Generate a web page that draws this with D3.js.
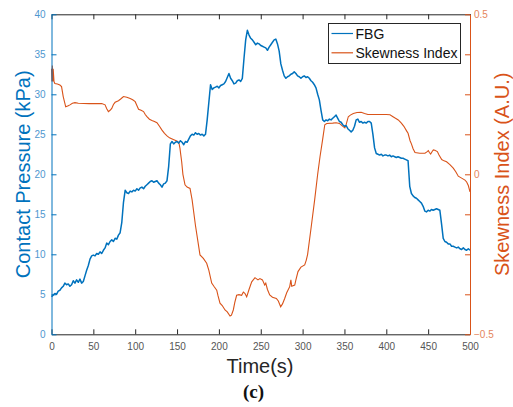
<!DOCTYPE html>
<html><head><meta charset="utf-8">
<script src="https://cdn.jsdelivr.net/npm/d3@7"></script>
<style>body{margin:0;background:#fff}svg{display:block;font-family:"Liberation Sans",Arial,sans-serif}</style>
</head><body><svg id="c" width="513" height="407"></svg>
<script>
// ---- data ----
const fbgStep = 2; // seconds between FBG samples
const fbgValues = [4.7,4.9,5.1,5.0,5.4,5.5,5.8,6.0,6.4,6.2,6.3,6.0,6.2,6.7,6.4,6.8,6.5,6.9,6.4,6.6,
7.3,8.0,8.6,9.4,9.8,9.9,9.8,10.1,10.0,10.3,10.1,10.5,10.8,11.4,11.2,11.6,11.8,11.6,12.0,11.9,
12.4,12.7,14.0,16.5,18.0,17.7,17.6,17.9,17.8,18.0,17.9,18.2,18.0,18.3,18.4,18.2,18.5,18.7,18.9,19.1,
19.2,19.0,19.1,19.2,18.9,18.7,18.4,18.8,18.9,19.2,21.0,23.8,24.1,23.8,24.0,24.1,23.9,24.2,24.0,23.7,
24.1,24.0,24.4,24.8,25.0,24.9,25.2,25.0,25.1,24.9,25.0,24.8,25.0,26.8,29.0,31.2,30.6,30.8,30.9,31.0,
30.8,31.1,31.2,31.3,31.6,32.1,32.6,32.0,31.7,31.3,31.4,31.7,31.8,31.6,32.0,34.5,36.8,38.0,37.4,37.0,
36.8,36.5,36.2,36.4,36.3,36.1,36.0,35.9,35.8,35.5,35.9,36.2,36.5,36.8,36.9,36.3,35.4,33.8,33.0,32.3,
32.0,32.2,32.3,32.5,32.6,32.8,32.6,32.3,32.2,32.0,32.2,32.3,32.1,32.2,32.0,31.7,31.5,31.2,30.8,30.0,
29.3,28.0,26.8,26.6,26.8,26.7,26.9,26.8,27.0,27.2,27.4,27.0,26.6,26.5,26.2,26.0,26.1,25.7,25.5,25.3,
25.5,26.0,26.8,26.9,26.5,26.6,26.4,26.5,26.4,26.6,26.6,26.4,25.0,23.3,22.6,22.5,22.4,22.5,22.3,22.4,
22.4,22.3,22.4,22.2,22.3,22.2,22.1,22.2,22.1,22.0,22.0,21.9,21.8,21.7,18.5,17.6,17.3,17.1,17.0,16.8,
16.6,16.4,16.0,15.4,15.3,15.5,15.4,15.6,15.5,15.6,15.7,15.6,15.5,13.8,12.0,11.6,11.5,11.3,11.3,11.0,
11.0,10.9,10.8,10.9,10.7,10.6,10.8,10.6,10.5,10.7,10.5];

const skewTimes = [0,0.5,1,1.5,2,3,4,7,10,12,14,17,20,22,25,28,32,45,60,64,66,68,70,72,74,76,80,83,86,90,94,97,100,102,104,107,110,112,114,117,120,123,126,129,132,135,138,141,145.5,149,151,152.5,153.5,154.5,155.5,157,159.5,162,165.5,168,172,177.4,181.4,185.4,188,191.4,194,197.4,199,201.3,204,207.3,210,213.3,215,217.2,219,221.2,224,227.2,229.2,231,233.2,236,239.2,243.1,246.7,249,252,254.7,256,258,260.7,264,268.6,271,273.8,276,278.6,281,284.6,286,287,290.6,292,294.5,298,302.5,304.4,306,310,314.4,318,320.8,324,326.5,328.8,336,340,344,347,350.5,352,354.6,357,360.6,365,370,374,378,390,400,404.4,408,411,414.3,418,421,424.4,426,428.4,430,432,434.3,440,446.2,448.5,450.2,451.5,453,455,456.2,458,461,463,466.2,469,472,476,480,483,486,490,494,496,498,500];
const skewValues = [0.33,0.29,0.34,0.29,0.33,0.29,0.284,0.282,0.279,0.274,0.243,0.211,0.214,0.217,0.222,0.224,0.222,0.221,0.221,0.217,0.205,0.196,0.2,0.206,0.218,0.225,0.23,0.236,0.243,0.241,0.237,0.233,0.227,0.215,0.203,0.2,0.196,0.187,0.18,0.172,0.168,0.165,0.161,0.15,0.138,0.128,0.12,0.114,0.109,0.105,0.102,0.095,0.081,0.06,0.04,0.0,-0.033,-0.04,-0.044,-0.08,-0.16,-0.252,-0.263,-0.278,-0.3,-0.34,-0.35,-0.362,-0.38,-0.403,-0.41,-0.424,-0.43,-0.443,-0.44,-0.424,-0.4,-0.378,-0.376,-0.378,-0.368,-0.372,-0.383,-0.36,-0.336,-0.323,-0.33,-0.326,-0.33,-0.346,-0.34,-0.36,-0.377,-0.384,-0.388,-0.396,-0.414,-0.405,-0.388,-0.37,-0.351,-0.33,-0.35,-0.346,-0.33,-0.304,-0.29,-0.283,-0.268,-0.25,-0.17,-0.08,0.0,0.055,0.11,0.155,0.159,0.16,0.161,0.159,0.152,0.145,0.155,0.18,0.185,0.19,0.193,0.194,0.19,0.187,0.187,0.187,0.186,0.18,0.175,0.17,0.16,0.15,0.135,0.128,0.105,0.095,0.08,0.068,0.066,0.066,0.07,0.074,0.068,0.063,0.072,0.076,0.075,0.071,0.06,0.046,0.042,0.039,0.03,0.019,0.008,-0.006,-0.012,-0.018,-0.024,-0.035,-0.055];

const xTicks = [0,50,100,150,200,250,300,350,400,450,500];
const leftTicks = [0,5,10,15,20,25,30,35,40];
const rightTicks = [-0.5,-0.375,-0.25,-0.125,0,0.125,0.25,0.375,0.5];
const rightLabels = [-0.5,0,0.5];
const seriesNames = ["FBG","Skewness Index"];

// ---- layout ----
const L = 51.5, R = 470, T = 14.3, B = 334.3;
const BLUE = "#0072BD", ORANGE = "#D95319";
const svg = d3.select("#c");
const x = d3.scaleLinear().domain([0,500]).range([L,R]);
const yL = d3.scaleLinear().domain([0,40]).range([B,T]);
const yR = d3.scaleLinear().domain([-0.5,0.5]).range([B,T]);

const fbg = fbgValues.map((v,i)=>[i*fbgStep, v]);
const skew = skewTimes.map((t,i)=>[t, skewValues[i]]);

// lines
svg.append("path").datum(skew).attr("fill","none").attr("stroke",ORANGE).attr("stroke-width",1.1)
  .attr("d", d3.line().x(d=>x(d[0])).y(d=>yR(d[1])));
svg.append("path").datum(fbg).attr("fill","none").attr("stroke",BLUE).attr("stroke-width",1.5)
  .attr("stroke-linejoin","round")
  .attr("d", d3.line().x(d=>x(d[0])).y(d=>yL(d[1])));

// axes
const gx = svg.append("g").attr("transform",`translate(0,${B})`)
  .call(d3.axisBottom(x).tickValues(xTicks).tickSizeInner(-5).tickSizeOuter(0).tickPadding(9));
gx.select(".domain").attr("stroke","#262626");
gx.selectAll(".tick line").attr("stroke","#262626");
gx.selectAll("text").attr("fill","#555").attr("font-size",10).attr("font-family","Liberation Sans, Arial");

const gt = svg.append("g").attr("transform",`translate(0,${T})`)
  .call(d3.axisTop(x).tickValues(xTicks).tickSizeInner(-5).tickSizeOuter(0).tickFormat(""));
gt.select(".domain").attr("stroke","#262626");
gt.selectAll(".tick line").attr("stroke","#262626");

const gl = svg.append("g").attr("transform",`translate(${L},0)`)
  .call(d3.axisLeft(yL).tickValues(leftTicks).tickSizeInner(-5).tickSizeOuter(0).tickPadding(6));
gl.select(".domain").attr("stroke",BLUE);
gl.selectAll(".tick line").attr("stroke",BLUE);
gl.selectAll("text").attr("fill","#4f97cf").attr("font-size",10).attr("font-family","Liberation Sans, Arial");

const gr = svg.append("g").attr("transform",`translate(${R},0)`)
  .call(d3.axisRight(yR).tickValues(rightTicks).tickSizeInner(-5).tickSizeOuter(0).tickPadding(4)
    .tickFormat(d => rightLabels.includes(d) ? d3.format("")(d) : ""));
gr.select(".domain").attr("stroke",ORANGE);
gr.selectAll(".tick line").attr("stroke",ORANGE);
gr.selectAll("text").attr("fill","#e5855c").attr("font-size",10).attr("font-family","Liberation Sans, Arial");

// axis titles
svg.append("text").attr("transform",`translate(29.5,${(T+B)/2}) rotate(-90)`).attr("text-anchor","middle")
  .attr("fill",BLUE).attr("font-size",20).text("Contact Pressure (kPa)");
svg.append("text").attr("transform",`translate(508.5,${(T+B)/2}) rotate(-90)`).attr("text-anchor","middle")
  .attr("fill",ORANGE).attr("font-size",20).text("Skewness Index (A.U.)");
svg.append("text").attr("x",260).attr("y",372.5).attr("text-anchor","middle")
  .attr("fill","#262626").attr("font-size",20).text("Time(s)");
svg.append("text").attr("x",253.5).attr("y",397.5).attr("text-anchor","middle")
  .attr("fill","#111").attr("font-size",19).attr("font-weight","bold")
  .attr("font-family","Liberation Serif, Times New Roman, serif").text("(c)");

// legend
const lg = svg.append("g");
lg.append("rect").attr("x",328.5).attr("y",23.5).attr("width",132).attr("height",40)
  .attr("fill","#fff").attr("stroke","#262626").attr("stroke-width",1);
[BLUE, ORANGE].forEach((c,i)=>{
  const yy = 33.5 + i*19.3;
  lg.append("line").attr("x1",331.5).attr("x2",353).attr("y1",yy).attr("y2",yy).attr("stroke",c).attr("stroke-width",1.2);
  lg.append("text").attr("x",355.5).attr("y",yy+5).attr("font-size",14).attr("fill","#111").text(seriesNames[i]);
});
</script></body></html>
